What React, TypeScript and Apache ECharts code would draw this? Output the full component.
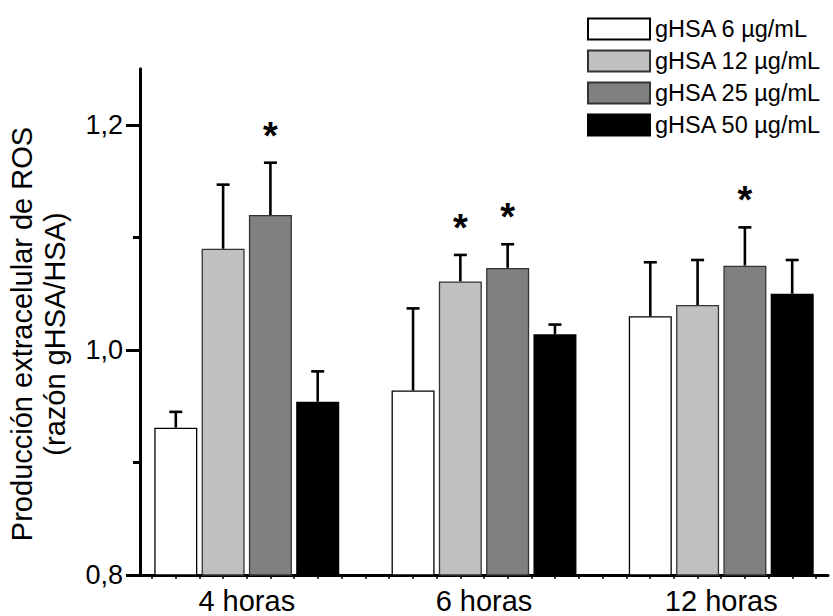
import React, { useEffect, useRef } from "react";
import * as echarts from "echarts";

const categories = ["4 horas", "6 horas", "12 horas"];
const groupPositions = [1, 2, 3];
const seriesNames = ["gHSA 6 µg/mL", "gHSA 12 µg/mL", "gHSA 25 µg/mL", "gHSA 50 µg/mL"];
const seriesColors = ["#ffffff", "#c0c0c0", "#808080", "#000000"];
const seriesBorders = ["#000000", "#333333", "#333333", "#000000"];

const values6 = [0.931, 0.964, 1.03];
const errors6 = [0.014, 0.073, 0.048];
const values12 = [1.09, 1.061, 1.04];
const errors12 = [0.057, 0.0235, 0.04];
const values25 = [1.12, 1.073, 1.075];
const errors25 = [0.0465, 0.021, 0.034];
const values50 = [0.954, 1.014, 1.05];
const errors50 = [0.027, 0.0086, 0.03];

const significant6 = [false, false, false];
const significant12 = [false, true, false];
const significant25 = [true, true, true];
const significant50 = [false, false, false];

const yMin = 0.8;
const yMax = 1.25;
const yMajorTicks = [0.8, 1.0, 1.2];
const yMinorTicks = [0.9, 1.1];
const xMin = 0.55;
const xMax = 3.45;
const xMinorTicks = [
  0.6, 0.7, 0.8, 0.9, 1.0, 1.1, 1.2, 1.3, 1.4, 1.5, 1.6, 1.7, 1.8, 1.9, 2.0,
  2.1, 2.2, 2.3, 2.4, 2.5, 2.6, 2.7, 2.8, 2.9, 3.0, 3.1, 3.2, 3.3, 3.4,
];

const allValues = [values6, values12, values25, values50];
const allErrors = [errors6, errors12, errors25, errors50];
const allSig = [significant6, significant12, significant25, significant50];

const FONT = "'Liberation Sans', Arial, sans-serif";
const BAR_W = 43;
const BAR_GAP = 0.1;
const PITCH = BAR_W * (1 + BAR_GAP);
const MINOR_TICK_LEN = 7;

export default function App() {
  const ref = useRef<HTMLDivElement>(null);
  useEffect(() => {
    if (!ref.current) return;
    const chart = echarts.init(ref.current, undefined, { renderer: "svg" });

    const barSeries = seriesNames.map((name, i) => ({
      type: "bar",
      name,
      barWidth: BAR_W,
      barGap: `${BAR_GAP * 100}%`,
      data: groupPositions.map((x, g) => [x, allValues[i][g]]),
      itemStyle: {
        color: seriesColors[i],
        borderColor: seriesBorders[i],
        borderWidth: 1.3,
      },
      z: 2,
    }));

    const errSeries = seriesNames.map((name, i) => ({
      type: "custom",
      name: name + " err",
      clip: false,
      z: 3,
      encode: { x: 0, y: 1 },
      data: groupPositions.map((x, g) => [x, allValues[i][g], allErrors[i][g], allSig[i][g] ? 1 : 0]),
      renderItem: (params: any, api: any) => {
        const x = api.value(0);
        const v = api.value(1);
        const e = api.value(2);
        const s = api.value(3);
        const base = api.coord([x, v]);
        const top = api.coord([x, v + e]);
        const cx = base[0] + (i - 1.5) * PITCH;
        const children: any[] = [
          {
            type: "line",
            shape: { x1: cx, y1: base[1], x2: cx, y2: top[1] },
            style: { stroke: "#000", lineWidth: 2.6 },
          },
          {
            type: "line",
            shape: { x1: cx - 6.5, y1: top[1], x2: cx + 6.5, y2: top[1] },
            style: { stroke: "#000", lineWidth: 2.6 },
          },
        ];
        if (s) {
          children.push({
            type: "text",
            x: cx,
            y: top[1] - 27,
            style: {
              text: "*",
              fill: "#000",
              font: `bold 38px ${FONT}`,
              textAlign: "center",
              textVerticalAlign: "middle",
            },
          });
        }
        return { type: "group", children };
      },
    }));

    const titleGraphic = {
      type: "text",
      x: 38,
      y: 334,
      rotation: Math.PI / 2,
      style: {
        text: "Producción extracelular de ROS\n(razón gHSA/HSA)",
        fill: "#000",
        font: `29px ${FONT}`,
        lineHeight: 33,
        textAlign: "center",
        textVerticalAlign: "middle",
      },
    };

    chart.setOption({
      animation: false,
      backgroundColor: "#ffffff",
      grid: { left: 140, right: 5, top: 68.75, bottom: 41, containLabel: false },
      legend: {
        data: seriesNames,
        orient: "vertical",
        left: 582,
        top: 12,
        itemWidth: 62,
        itemHeight: 21,
        itemGap: 8,
        icon: "rect",
        selectedMode: false,
        textStyle: { fontSize: 23.5, color: "#000", fontFamily: FONT },
      },
      xAxis: {
        type: "value",
        min: xMin,
        max: xMax,
        splitLine: { show: false },
        axisLine: { show: true, onZero: false, lineStyle: { color: "#000", width: 3 } },
        axisTick: {
          show: true,
          inside: false,
          length: 4,
          customValues: xMinorTicks,
          lineStyle: { color: "#000", width: 1.5 },
        },
        axisLabel: {
          show: true,
          customValues: groupPositions,
          formatter: (val: number) => {
            const idx = groupPositions.indexOf(Math.round(val));
            return idx >= 0 ? categories[idx] : "";
          },
          fontSize: 29,
          color: "#000",
          fontFamily: FONT,
          margin: 11,
        },
      },
      yAxis: {
        type: "value",
        min: yMin,
        max: yMax,
        position: "left",
        splitLine: { show: false },
        axisLine: { show: true, onZero: false, lineStyle: { color: "#000", width: 3 } },
        axisTick: {
          show: true,
          inside: false,
          length: 14,
          customValues: yMajorTicks,
          lineStyle: { color: "#000", width: 3 },
        },
        axisLabel: {
          customValues: yMajorTicks,
          formatter: (val: number) => val.toFixed(1).replace(".", ","),
          fontSize: 27,
          color: "#000",
          fontFamily: FONT,
          margin: 17,
        },
      },
      graphic: [titleGraphic],
      series: [...barSeries, ...errSeries],
    });

    const minorTickGraphics = yMinorTicks.map((v) => {
      const p = chart.convertToPixel({ gridIndex: 0 }, [xMin, v]) as number[];
      return {
        type: "line",
        z: 100,
        shape: { x1: p[0] - MINOR_TICK_LEN, y1: p[1], x2: p[0], y2: p[1] },
        style: { stroke: "#000", lineWidth: 3 },
      };
    });
    chart.setOption({ graphic: [titleGraphic, ...minorTickGraphics] });

    return () => chart.dispose();
  }, []);
  return (
    <div
      ref={ref}
      style={{ position: "fixed", left: 0, top: 0, width: 833, height: 616, background: "#fff" }}
    />
  );
}
